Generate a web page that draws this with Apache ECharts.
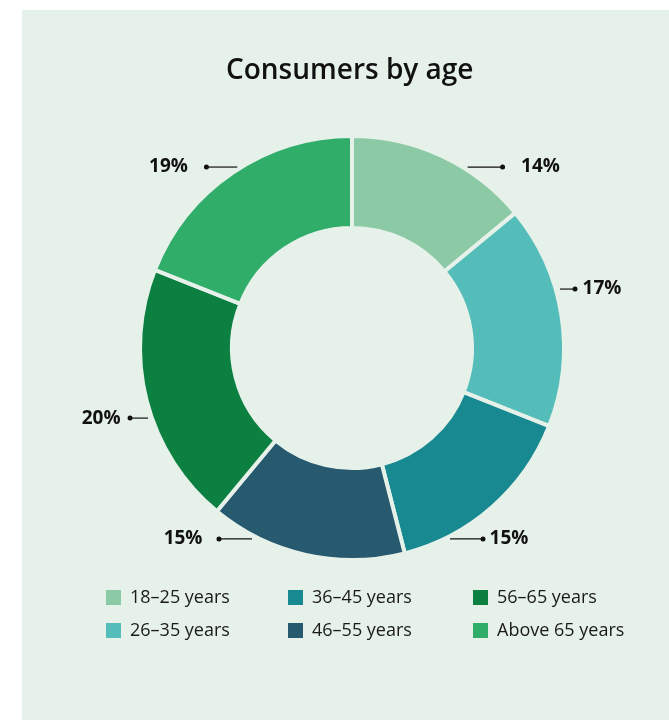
<!DOCTYPE html>
<html>
<head>
<meta charset="utf-8">
<script src="https://cdn.jsdelivr.net/npm/echarts@6/dist/echarts.min.js"></script>
<style>
html,body{margin:0;padding:0;background:#ffffff;}
#chart{width:669px;height:720px;}
</style>
</head>
<body>
<div id="chart"></div>
<script>
// ---- data ----
const categories = ['18–25 years', '26–35 years', '36–45 years', '46–55 years', '56–65 years', 'Above 65 years'];
const shares = [14, 17, 15, 15, 20, 19];

// ---- style ----
const colors = ['#8cc9a5', '#55bdb9', '#188991', '#285a6f', '#0c8041', '#31ad6a'];
const panelColor = '#e6f1ea';
const FONT = '"Open Sans", "Noto Sans", sans-serif';

// ---- label leader layout (angle clockwise from 12 o'clock, gap from ring, line length, text gap) ----
const leaderAngle = [30.5, 73.7, 155.4, 204.6, 250.5, 329.5];
const leaderGap = [9, 6.5, 10.6, 12.6, 6, 8];
const leaderLen = [35, 15, 33, 33, 18, 31];
const textGap = [16, 5, 4, 14, 7, 16];

const CX = 352, CY = 348, R_OUT = 212, R_IN = 120, BORDER = 4;
const R_VIS = R_OUT - BORDER / 2;

const chart = echarts.init(document.getElementById('chart'), null, {renderer: 'canvas'});

function sideOf(i) { return Math.sin(leaderAngle[i] * Math.PI / 180) >= 0 ? 1 : -1; }

const pieData = categories.map((c, i) => ({name: c, value: shares[i], itemStyle: {color: colors[i]}}));

const legendCols = [[0, 1], [2, 3], [4, 5]];
const legendLeft = [104, 286, 471];

chart.setOption({
  backgroundColor: '#ffffff',
  animation: false,
  graphic: [{
    type: 'rect', left: 22, top: 10, z: -10,
    shape: {width: 660, height: 720},
    style: {fill: panelColor}
  }],
  title: {
    text: 'Consumers by age',
    left: 226,
    top: 57,
    padding: 0,
    textStyle: {fontFamily: FONT, fontSize: 28, fontWeight: 600, color: '#111111'}
  },
  legend: legendCols.map((col, k) => ({
    orient: 'vertical',
    left: legendLeft[k],
    top: 588,
    padding: 0,
    icon: 'rect',
    itemWidth: 17,
    itemHeight: 17,
    itemGap: 14,
    selectedMode: false,
    data: col.map(i => categories[i]),
    textStyle: {fontFamily: FONT, fontSize: 18, color: '#1a1a1a', padding: [0, 0, 0, 3]}
  })),
  series: [{
    type: 'pie',
    center: [CX, CY],
    radius: [R_IN, R_OUT],
    startAngle: 90,
    clockwise: true,
    data: pieData,
    itemStyle: {borderColor: panelColor, borderWidth: BORDER},
    emphasis: {disabled: true},
    label: {
      show: true,
      position: 'outside',
      overflow: 'none',
      width: 120,
      fontFamily: FONT,
      formatter: function (p) {
        const i = p.dataIndex;
        const gap = '{g' + i + '| }';
        return sideOf(i) > 0
          ? '{dot| }' + gap + '{v|' + p.value + '%}'
          : '{v|' + p.value + '%}' + gap + '{dot| }';
      },
      rich: Object.assign({
        v: {fontFamily: FONT, fontSize: 19, fontWeight: 'bold', color: '#111111', verticalAlign: 'middle'},
        dot: {width: 5, height: 5, borderRadius: 2.5, backgroundColor: '#111111', fontSize: 1, verticalAlign: 'middle'}
      }, Object.fromEntries(textGap.map((g, i) => ['g' + i, {width: g, fontSize: 1, verticalAlign: 'middle'}])))
    },
    labelLine: {show: true, lineStyle: {color: '#111111', width: 1.2}},
    labelLayout: function (params) {
      const i = params.dataIndex;
      const a = leaderAngle[i] * Math.PI / 180;
      const side = sideOf(i);
      const y = CY - R_VIS * Math.cos(a);
      const xc = CX + R_VIS * Math.sin(a);
      const x1 = xc + side * leaderGap[i];
      const x2 = x1 + side * leaderLen[i];
      return {
        x: x2 - side * 2.5,
        y: y,
        align: side > 0 ? 'left' : 'right',
        verticalAlign: 'middle',
        labelLinePoints: [[x1, y], [(x1 + x2) / 2, y], [x2, y]]
      };
    }
  }]
});
</script>
</body>
</html>
